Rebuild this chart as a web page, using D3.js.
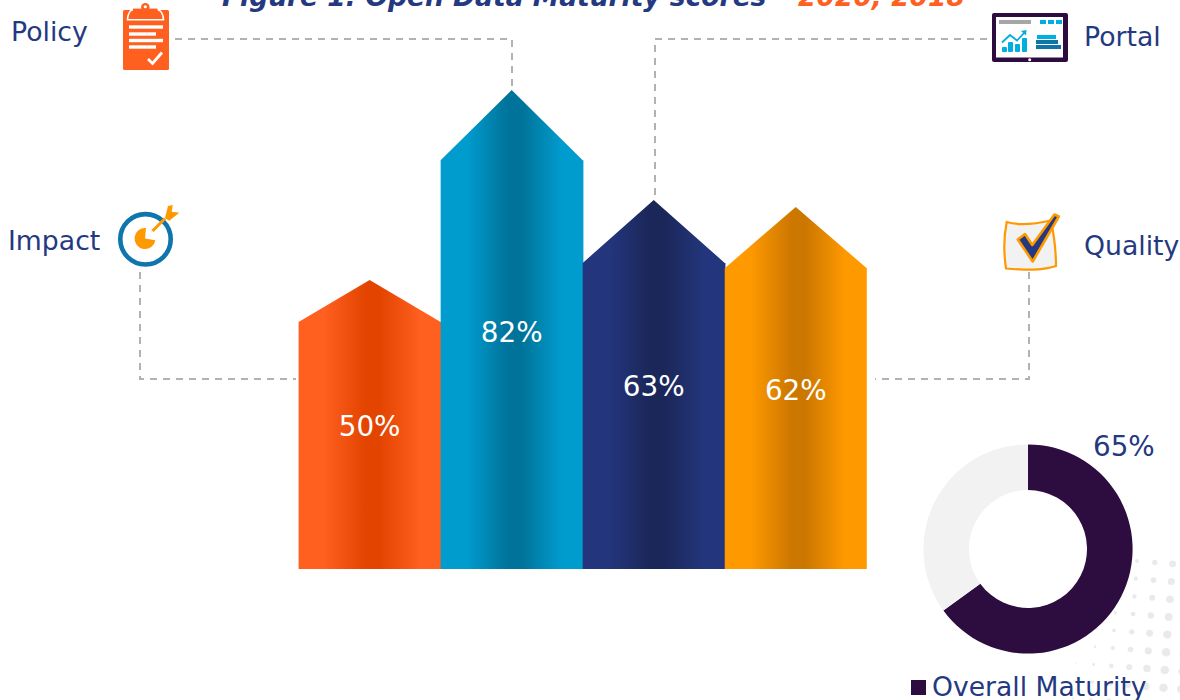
<!DOCTYPE html>
<html><head><meta charset="utf-8">
<script src="https://d3js.org/d3.v7.min.js"></script>
<style>html,body{margin:0;padding:0;background:#fff;overflow:hidden}svg{display:block}text{font-family:"DejaVu Sans",Verdana,sans-serif}</style>
</head><body><svg id="c" width="1180" height="700"></svg>
<script>
const categories = ["Impact","Policy","Portal","Quality"];
const scoreLabels = [50,82,63,62];
const peakValues = [49.5,82,63.2,62];
const shoulderValues = [42.3,70,52.4,51.5];
const edgeColors = ["#ff5f1f","#009cce","#23367d","#ff9900"];
const midColors = ["#e34400","#00739a","#1b2759","#cc7700"];
const overall = [65,35];
const overallColors = ["#2d0c3f","#f2f2f2"];
const titleParts = ["Figure 1: Open Data Maturity scores – ","2020, 2018"];

const svg = d3.select("#c");
const defs = svg.append("defs");
const x = d3.scaleBand().domain(categories).range([298.6,866.8]).padding(0);
const y = d3.scaleLinear().domain([0,100]).range([569,-15]);
const navy = "#24397f";

// halftone dots
const dots = svg.append("g").attr("fill","#e9eaec");
d3.range(0,9).forEach(j=>d3.range(-4,5).forEach(i=>{
  const r = Math.min(4.3,1.9+0.75*i+0.18*j);
  if(r<0.5) return;
  dots.append("circle").attr("cx",1137+17.8*i-1.3*j).attr("cy",561+1.4*i+17.7*j).attr("r",r);
}));

// title
const t = svg.append("text").attr("x",222).attr("y",6).attr("font-size",26.5).attr("font-weight","bold").attr("font-style","italic").attr("fill",navy);
t.append("tspan").text(titleParts[0]);
t.append("tspan").attr("fill","#ff5f1f").text(titleParts[1]);

// leader lines
const line = d3.line();
[[[175,39],[512,39],[512,88]],[[987,39],[655,39],[655,197]],[[140,272],[140,379],[296,379]],[[1029,272],[1029,379],[875,379]]].forEach(p=>{
  svg.append("path").attr("d",line(p)).attr("fill","none").attr("stroke","#b2b2b2").attr("stroke-width",2).attr("stroke-dasharray","7,6");
});

// bars
categories.forEach((c,i)=>{
  const g = defs.append("linearGradient").attr("id","g"+i);
  [[0,edgeColors[i]],[.18,edgeColors[i]],[.47,midColors[i]],[.57,midColors[i]],[.85,edgeColors[i]],[1,edgeColors[i]]].forEach(s=>g.append("stop").attr("offset",s[0]).attr("stop-color",s[1]));
});
const bars = svg.append("g");
categories.forEach((c,i)=>{
  const x0=x(c), x1=x0+x.bandwidth()+(i<categories.length-1?0.7:0), m=x0+x.bandwidth()/2;
  const xe=x0+x.bandwidth();
  bars.append("path").attr("d",d3.line()([[x0,y(0)],[x0,y(shoulderValues[i])],[m,y(peakValues[i])],[xe,y(shoulderValues[i])],[x1,y(shoulderValues[i])],[x1,y(0)]])+"Z").attr("fill",`url(#g${i})`);
});
categories.forEach((c,i)=>{
  svg.append("text").attr("x",x(c)+x.bandwidth()/2).attr("y",(y(peakValues[i])+y(0))/2+12).attr("text-anchor","middle").attr("font-size",27.8).attr("fill","#fff").text(scoreLabels[i]+"%");
});

// category labels
[["Policy",11,41],["Portal",1084,46],["Impact",8,250],["Quality",1084,255]].forEach(d=>{
  svg.append("text").attr("x",d[1]).attr("y",d[2]).attr("font-size",26.7).attr("fill",navy).text(d[0]);
});

// donut
const pie = d3.pie().sort(null)(overall);
const arc = d3.arc().innerRadius(59).outerRadius(104.6);
svg.append("g").attr("transform","translate(1028,549)").selectAll("path").data(pie).join("path").attr("d",arc).attr("fill",(d,i)=>overallColors[i]);
svg.append("text").attr("x",1093).attr("y",456).attr("font-size",27.8).attr("fill",navy).text(overall[0]+"%");
svg.append("rect").attr("x",911).attr("y",680).attr("width",15).attr("height",15).attr("fill",overallColors[0]);
svg.append("text").attr("x",932).attr("y",696).attr("font-size",26.6).attr("fill",navy).text("Overall Maturity");

// Policy icon
const ip = svg.append("g");
ip.append("rect").attr("x",123).attr("y",10).attr("width",46).attr("height",60).attr("rx",1.5).attr("fill","#ff5f1f");
ip.append("circle").attr("cx",145.3).attr("cy",7.2).attr("r",4.2).attr("fill","#ff5f1f");
ip.append("circle").attr("cx",145.3).attr("cy",6.8).attr("r",1.6).attr("fill","#fff");
ip.append("path").attr("d","M133 9.5 Q128 11 127.5 19.8 L163.5 19.8 Q163 11 157.5 9.5").attr("fill","none").attr("stroke","#fff").attr("stroke-width",1.6);
ip.append("rect").attr("x",133).attr("y",8.6).attr("width",24.5).attr("height",2).attr("fill","#ff5f1f");
[[27,163],[34,156],[40.5,163],[47,156]].forEach(l=>ip.append("rect").attr("x",129).attr("y",l[0]-1.7).attr("width",l[1]-129).attr("height",3.4).attr("fill","#fff"));
ip.append("path").attr("d","M148 59 L152.5 63.5 L162 52.5").attr("fill","none").attr("stroke","#fff").attr("stroke-width",2.8);

// Portal icon
const it = svg.append("g");
it.append("rect").attr("x",992).attr("y",13).attr("width",76).attr("height",49).attr("rx",2).attr("fill","#2d0c3f");
it.append("rect").attr("x",996).attr("y",17).attr("width",67).attr("height",40.5).attr("fill","#fff");
it.append("rect").attr("x",999).attr("y",20).attr("width",32).attr("height",4).attr("fill","#a6a6a6");
[1040,1048,1056].forEach(v=>it.append("rect").attr("x",v).attr("y",20).attr("width",6).attr("height",4).attr("fill","#00aee0"));
[[1002,47],[1008,42],[1015,44],[1022,38]].forEach(b=>it.append("rect").attr("x",b[0]).attr("y",b[1]).attr("width",5).attr("height",52-b[1]).attr("rx",1).attr("fill","#00aee0"));
it.append("path").attr("d","M1002 42.5 L1010 35 L1017 40.5 L1025 32").attr("fill","none").attr("stroke","#00aee0").attr("stroke-width",1.8);
it.append("path").attr("d","M1021 31 L1026.5 30 L1026 35.5Z").attr("fill","#00aee0");
[[1037,35,19,"#00aee0"],[1036,40,22,"#0f75a8"],[1036,45,25,"#0f75a8"]].forEach(b=>it.append("rect").attr("x",b[0]).attr("y",b[1]).attr("width",b[2]).attr("height",4).attr("fill",b[3]));
it.append("circle").attr("cx",1029.7).attr("cy",59.7).attr("r",1.5).attr("fill","#fff");

// Impact icon
const im = svg.append("g");
im.append("circle").attr("cx",145.5).attr("cy",239.3).attr("r",25.2).attr("fill","#fff").attr("stroke","#0f75ad").attr("stroke-width",4.6);
im.append("path").attr("d",d3.arc().innerRadius(0).outerRadius(10.5).startAngle(Math.PI*0.55).endAngle(Math.PI*2.03)()).attr("transform","translate(145,238.5)").attr("fill","#ff9900");
im.append("path").attr("d","M152.5 231 L165 218.5").attr("stroke","#ff9900").attr("stroke-width",3);
im.append("path").attr("d","M165 218 L168 206 L172.7 205 L171.7 211.7 L179.3 212.7 L169.3 220.7Z").attr("fill","#ff9900");

// Quality icon
const iq = svg.append("g");
iq.append("path").attr("d","M1006.7 222 C1020 226 1040 223 1051 220.5 C1054 235 1056 250 1056 266 C1040 271 1025 270 1006 268.5 C1004 255 1003 240 1006.7 222Z").attr("fill","#f2f2f2").attr("stroke","#ff9900").attr("stroke-width",2.2);
iq.append("path").attr("d","M1017.8 239.5 L1025 234 L1032.3 245 L1054.5 214.5 L1058.8 216.5 L1032.7 261.5Z").attr("fill",navy).attr("stroke","#ff9900").attr("stroke-width",2.6).attr("stroke-linejoin","round");
</script></body></html>
